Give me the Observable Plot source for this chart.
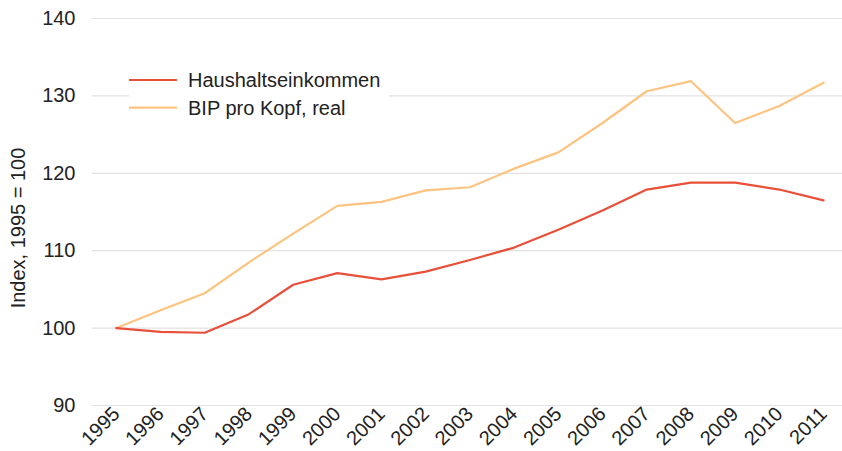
<!DOCTYPE html>
<html><head><meta charset="utf-8">
<script src="https://cdn.jsdelivr.net/npm/d3@7"></script>
<script src="https://cdn.jsdelivr.net/npm/@observablehq/plot@0.6"></script>
<style>
body{margin:0;background:#fff}
#chart svg{font-family:"Liberation Sans",Arial,Helvetica,sans-serif}
</style>
</head><body><div id="chart"></div>
<script>
const years = [1995,1996,1997,1998,1999,2000,2001,2002,2003,2004,2005,2006,2007,2008,2009,2010,2011];
const haushalt = [100,99.5,99.4,101.8,105.6,107.1,106.3,107.3,108.8,110.4,112.7,115.2,117.9,118.8,118.8,117.9,116.5];
const bip = [100,102.3,104.5,108.5,112.2,115.8,116.3,117.8,118.2,120.6,122.7,126.5,130.6,131.9,126.5,128.7,131.7];
const yTicks = [90,100,110,120,130,140];
const seriesNames = ["Haushaltseinkommen","BIP pro Kopf, real"];
const seriesColors = ["#e8503a","#fdc380"];
const yLabel = "Index, 1995 = 100";

const rows = [];
years.forEach((yr, i) => {
  rows.push({year: yr, value: bip[i], series: seriesNames[1]});
});
years.forEach((yr, i) => {
  rows.push({year: yr, value: haushalt[i], series: seriesNames[0]});
});

const W = 842, H = 451;
const chart = Plot.plot({
  width: W, height: H,
  marginLeft: 92, marginRight: 0, marginTop: 18, marginBottom: 46,
  style: {fontSize: "20px", color: "#222", background: "#fff"},
  x: {type: "linear", domain: [1994.46, 2011.43]},
  y: {domain: [90, 140]},
  color: {domain: seriesNames, range: seriesColors},
  marks: [
    Plot.ruleY(yTicks, {stroke: "#e2e2e2", strokeWidth: 1.2}),
    Plot.axisY({ticks: yTicks, tickSize: 0, tickPadding: 17, label: null, fontSize: 20}),
    Plot.axisX({ticks: years, tickFormat: d => String(d), tickSize: 0, tickPadding: 5, tickRotate: -45, label: null, fontSize: 20, style: {letterSpacing: "-2px"}}),
    Plot.line(rows, {x: "year", y: "value", z: "series", stroke: "series", strokeWidth: 2.2}),
    Plot.text([yLabel], {frameAnchor: "left", textAnchor: "middle", text: d => d, rotate: -90, dx: -74, dy: 16, fontSize: 20, fill: "#222"})
  ]
});
document.getElementById("chart").appendChild(chart);

// legend inside plot area
const svg = d3.select(chart);
const lg = svg.append("g").attr("class", "legend").attr("text-anchor", "start");
lg.append("rect").attr("x", 129).attr("y", 64).attr("width", 260).attr("height", 58).attr("fill", "#fff");
seriesNames.forEach((name, i) => {
  const cy = 80 + i * 27.7;
  lg.append("line").attr("x1", 129).attr("x2", 177).attr("y1", cy).attr("y2", cy)
    .attr("stroke", seriesColors[i]).attr("stroke-width", 2.2);
  lg.append("text").attr("x", 188).attr("y", cy).attr("dy", "0.35em")
    .attr("text-anchor", "start").attr("font-size", 20).attr("fill", "#222").text(name);
});
</script>
</body></html>
